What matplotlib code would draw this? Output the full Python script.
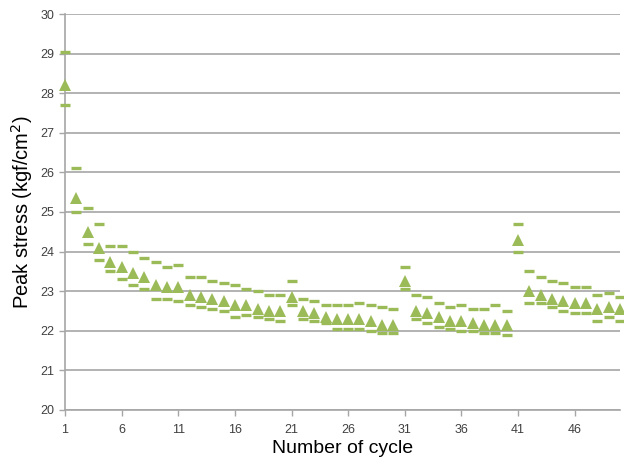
import numpy as np
import matplotlib
matplotlib.use("Agg")
import matplotlib.pyplot as plt

plt.rcParams['font.family'] = ['Liberation Sans', 'DejaVu Sans']

# peak stress per cycle: mean (triangles), max and min (dashes)
cycles = np.arange(1, 51)
stress_mean = [28.2, 25.35, 24.5, 24.1, 23.75, 23.6, 23.45, 23.35, 23.15, 23.1,
               23.1, 22.9, 22.85, 22.8, 22.75, 22.65, 22.65, 22.55, 22.5, 22.5,
               22.85, 22.5, 22.45, 22.35, 22.3, 22.3, 22.3, 22.25, 22.15, 22.15,
               23.25, 22.5, 22.45, 22.35, 22.25, 22.25, 22.2, 22.15, 22.15, 22.15,
               24.3, 23.0, 22.9, 22.8, 22.75, 22.7, 22.7, 22.55, 22.6, 22.55]
stress_max = [29.05, 26.1, 25.1, 24.7, 24.15, 24.15, 24.0, 23.85, 23.75, 23.6,
              23.65, 23.35, 23.35, 23.25, 23.2, 23.15, 23.05, 23.0, 22.9, 22.9,
              23.25, 22.8, 22.75, 22.65, 22.65, 22.65, 22.7, 22.65, 22.6, 22.55,
              23.6, 22.9, 22.85, 22.7, 22.6, 22.65, 22.55, 22.55, 22.65, 22.5,
              24.7, 23.5, 23.35, 23.25, 23.2, 23.1, 23.1, 22.9, 22.95, 22.85]
stress_min = [27.7, 25.0, 24.2, 23.8, 23.5, 23.3, 23.15, 23.05, 22.8, 22.8,
              22.75, 22.65, 22.6, 22.55, 22.5, 22.35, 22.4, 22.35, 22.3, 22.25,
              22.65, 22.3, 22.25, 22.2, 22.05, 22.05, 22.05, 22.0, 21.95, 21.95,
              23.05, 22.3, 22.2, 22.1, 22.05, 22.0, 22.0, 21.95, 21.95, 21.9,
              24.0, 22.7, 22.7, 22.6, 22.5, 22.45, 22.45, 22.25, 22.35, 22.25]

xticks = [1, 6, 11, 16, 21, 26, 31, 36, 41, 46]
green = '#9bbb59'

fig = plt.figure(figsize=(6.24, 4.62), dpi=100)
ax = fig.add_axes([65/624, 1-410/462, 555/624, 396/462])

ax.plot(cycles, stress_max, linestyle='none', marker='_', markersize=7.5,
        markeredgewidth=2.4, color=green, clip_on=False, zorder=3)
ax.plot(cycles, stress_min, linestyle='none', marker='_', markersize=7.5,
        markeredgewidth=2.4, color=green, clip_on=False, zorder=3)
ax.plot(cycles, stress_mean, linestyle='none', marker='^', markersize=9,
        color=green, markeredgewidth=0, clip_on=False, zorder=4)

ax.set_xlim(1, 50)
ax.set_ylim(20, 30)
ax.set_yticks(np.arange(20, 31, 1))
ax.set_xticks(xticks)
ax.yaxis.grid(True, color='#a6a6a6', linewidth=1.2)
ax.set_axisbelow(True)

for side in ['top', 'right']:
    ax.spines[side].set_visible(False)
for side in ['left', 'bottom']:
    ax.spines[side].set_color('#a6a6a6')
    ax.spines[side].set_linewidth(1.2)

ax.tick_params(axis='both', colors='#a6a6a6', labelcolor='#404040',
               labelsize=9, length=4, width=1)
ax.tick_params(axis='x', pad=6)

ax.set_xlabel('Number of cycle', fontsize=14, labelpad=3)
ax.set_ylabel('Peak stress (kgf/cm$^2$)', fontsize=14.5, labelpad=4)

fig.savefig('out.png', dpi=100)
